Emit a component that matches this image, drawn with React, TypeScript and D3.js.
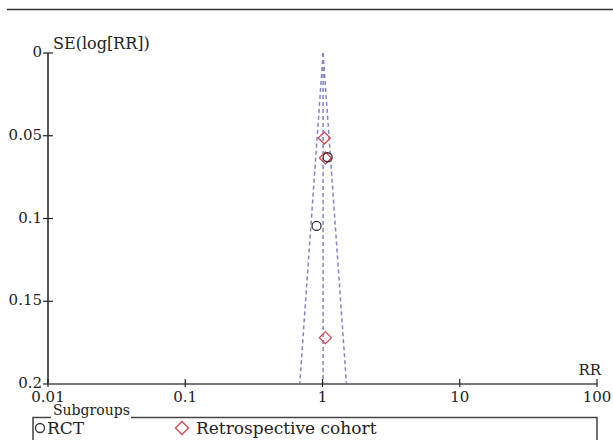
import React from "react";
import * as d3 from "d3";

const WIDTH = 613;
const HEIGHT = 440;

// RR tick values and SE tick values
const xTicks = [0.01, 0.1, 1, 10, 100];
const xTickLabels = ["0.01", "0.1", "1", "10", "100"];
const yTicks = [0, 0.05, 0.1, 0.15, 0.2];
const yTickLabels = ["0", "0.05", "0.1", "0.15", "0.2"];

// studies
const rctRR = [1.09, 0.905];
const rctSE = [0.063, 0.1045];
const cohortRR = [1.03, 1.05, 1.05];
const cohortSE = [0.0514, 0.0634, 0.172];

const pooledRR = 1.01;
const maxSE = 0.2;

const FONT = "'DejaVu Serif', serif";
const funnelColor = "#7f84cc";

export default function App() {
  const x = d3.scaleLog().domain([0.01, 100]).range([48, 597]);
  const y = d3.scaleLinear().domain([0, 0.2]).range([53, 384]);

  const lp = Math.log(pooledRR);
  const lo = Math.exp(lp - 1.96 * maxSE);
  const hi = Math.exp(lp + 1.96 * maxSE);

  const diamond = (cx: number, cy: number, r: number) =>
    `M${cx},${cy - r}L${cx + r},${cy}L${cx},${cy + r}L${cx - r},${cy}Z`;

  return (
    <svg
      width={WIDTH}
      height={HEIGHT}
      style={{ position: "absolute", left: 0, top: 0, background: "#fff" }}
      fontFamily={FONT}
    >
      <line x1={7} x2={613} y1={9.5} y2={9.5} stroke="#333" strokeWidth={1.5} />

      {/* funnel */}
      <g stroke={funnelColor} strokeWidth={1.5} strokeDasharray="4,3" fill="none">
        <line x1={x(pooledRR)} y1={y(0)} x2={x(pooledRR)} y2={y(maxSE)} />
        <line x1={x(pooledRR)} y1={y(0)} x2={x(lo)} y2={y(maxSE)} />
        <line x1={x(pooledRR)} y1={y(0)} x2={x(hi)} y2={y(maxSE)} />
      </g>

      {/* y axis */}
      <line x1={48} x2={48} y1={y(0)} y2={y(0.2)} stroke="#222" strokeWidth={1.5} />
      {yTicks.map((t, i) => (
        <g key={i}>
          <line x1={43} x2={53} y1={y(t)} y2={y(t)} stroke="#222" strokeWidth={1.2} />
          <text x={42} y={y(t) + 4} textAnchor="end" fontSize={15} fill="#222">
            {yTickLabels[i]}
          </text>
        </g>
      ))}
      <text x={53} y={49} fontSize={16} fill="#222">SE(log[RR])</text>

      {/* x axis */}
      <line x1={48} x2={597} y1={y(0.2)} y2={y(0.2)} stroke="#777" strokeWidth={2} />
      {xTicks.map((t, i) => (
        <g key={i}>
          <line x1={x(t)} x2={x(t)} y1={y(0.2) - 5} y2={y(0.2) + 3} stroke="#222" strokeWidth={1.2} />
          <text x={x(t)} y={402} textAnchor="middle" fontSize={15} fill="#222">
            {xTickLabels[i]}
          </text>
        </g>
      ))}
      <text x={601} y={375} textAnchor="end" fontSize={15} fill="#222">RR</text>

      {/* points */}
      {cohortRR.map((v, i) => (
        <path key={"c" + i} d={diamond(x(v), y(cohortSE[i]), 6)} fill="none" stroke="#d9454f" strokeWidth={1.3} />
      ))}
      {rctRR.map((v, i) => (
        <circle key={"r" + i} cx={x(v)} cy={y(rctSE[i])} r={4.5} fill="none" stroke="#333" strokeWidth={1.3} />
      ))}

      {/* legend */}
      <path d="M33,445V417.5H51M131,417.5H597V445" fill="none" stroke="#444" strokeWidth={1.5} />
      <text x={53} y={415} fontSize={14} fill="#222">Subgroups</text>
      <circle cx={40} cy={428} r={4.5} fill="none" stroke="#333" strokeWidth={1.3} />
      <text x={47} y={434} fontSize={17} fill="#222">RCT</text>
      <path d={diamond(182, 428, 6.5)} fill="none" stroke="#d9454f" strokeWidth={1.3} />
      <text x={196} y={434} fontSize={17} fill="#222">Retrospective cohort</text>
    </svg>
  );
}
